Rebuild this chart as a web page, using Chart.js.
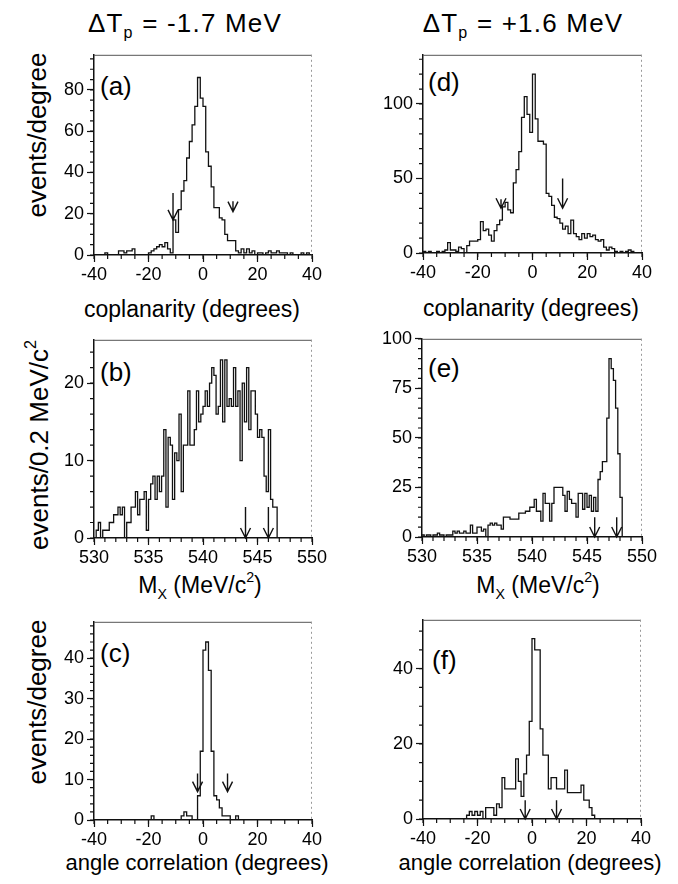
<!DOCTYPE html>
<html>
<head>
<meta charset="utf-8">
<script src="https://cdn.jsdelivr.net/npm/chart.js@4.4.1/dist/chart.umd.min.js"></script>
<style>
body { margin: 0; background: #fff; font-family: 'Liberation Sans', Arial, sans-serif; }
#page { position: relative; width: 678px; height: 884px; overflow: hidden; }
canvas { position: absolute; }
.txt { position: absolute; white-space: nowrap; color: #000; line-height: 1; }
.title { font-size: 26px; letter-spacing: 1.2px; transform: translateX(-50%); }
.xt { font-size: 23px; transform: translateX(-50%); }
.xt.ang { font-size: 22px; }
.yt { font-size: 26px; transform: translate(-50%, -50%) rotate(-90deg); }
.lab { font-size: 26px; }
sub, sup { font-size: 0.62em; line-height: 0; }
sub { vertical-align: -0.4em; }
sup { vertical-align: 0.75em; }
</style>
</head>
<body>
<div id="page">
  <div class="txt title" style="left:185px; top:10px">&Delta;T<sub>p</sub> = -1.7 MeV</div>
  <div class="txt title" style="left:523px; top:10px">&Delta;T<sub>p</sub> = +1.6 MeV</div>

  <div class="txt yt" style="left:37px; top:135px">events/degree</div>
  <div class="txt yt" style="left:39px; top:445px">events/0.2 MeV/c<sup>2</sup></div>
  <div class="txt yt" style="left:37px; top:702px">events/degree</div>

  <div class="txt xt" style="left:192px; top:298px">coplanarity (degrees)</div>
  <div class="txt xt" style="left:531px; top:297px">coplanarity (degrees)</div>
  <div class="txt xt" style="left:200px; top:574px">M<sub>X</sub> (MeV/c<sup>2</sup>)</div>
  <div class="txt xt" style="left:538px; top:574px">M<sub>X</sub> (MeV/c<sup>2</sup>)</div>
  <div class="txt xt ang" style="left:197px; top:852px">angle correlation (degrees)</div>
  <div class="txt xt ang" style="left:530px; top:852px">angle correlation (degrees)</div>

  <div class="txt lab" style="left:100px; top:73px">(a)</div>
  <div class="txt lab" style="left:428px; top:69px">(d)</div>
  <div class="txt lab" style="left:100px; top:359px">(b)</div>
  <div class="txt lab" style="left:428px; top:355px">(e)</div>
  <div class="txt lab" style="left:100px; top:640px">(c)</div>
  <div class="txt lab" style="left:432px; top:647px">(f)</div>

  <canvas id="ca"></canvas>
  <canvas id="cd"></canvas>
  <canvas id="cb"></canvas>
  <canvas id="ce"></canvas>
  <canvas id="cc"></canvas>
  <canvas id="cf"></canvas>
</div>
<script>
// bins: 1 degree from -40 for the angle histograms, 0.2 MeV from 530 for Mx
var degStart = -40, degWidth = 1;
var massStart = 530, massWidth = 0.2;

// (a) coplanarity, dTp = -1.7 MeV
var copA = [
  0,0,0,0,0,1,0,0,0,0,
  2,2,1,2,2,3,0,0,0,0,
  0,1,2,3,4,5,4,6,3,1,
  17,11,22,31,36,47,55,63,72,86,
  76,72,50,43,33,23,23,18,17,10,
  7,7,7,2,1,3,1,3,1,2,
  0,1,1,0,1,2,1,1,2,1,
  1,1,0,1,0,0,0,1,0,1
];
// (d) coplanarity, dTp = +1.6 MeV
var copD = [
  1,1,0,1,0,0,1,0,1,2,
  7,2,2,1,4,3,0,5,8,8,
  8,9,21,15,16,12,8,15,19,22,
  31,34,29,27,47,56,68,91,105,93,
  81,120,90,75,75,73,40,38,32,24,
  23,20,16,18,13,22,13,11,9,13,
  10,13,11,12,9,8,9,4,2,4,
  3,1,0,1,0,1,2,1,0,0
];
// (b) missing mass, dTp = -1.7 MeV
var massB = [
  0,0,1,2,0, 1,1,1,2,2, 3,3,4,3,4, 0,2,2,4,4,
  6,3,5,5,6, 1,5,7,8,5, 8,6,8,14,4, 13,12,5,11,10,
  16,6,12,12,19, 12,12,14,19,15, 16,17,19,17,20, 22,21,16,17,23,
  15,23,17,18,17, 22,17,19,10,20, 15,22,14,19,19, 16,13,14,13,8,
  6,14,5,4,4, 0
];
// (e) missing mass, dTp = +1.6 MeV
var massE = [
  1,1,0,1,1, 0,1,1,2,1, 1,0,1,1,1, 3,2,3,2,2,
  3,2,2,6,2, 2,5,5,3,4, 0,6,7,6,7, 6,6,4,10,10,
  10,9,9,9,9, 12,12,12,13,13, 15,15,19,13,13, 8,22,17,17,8,
  17,25,25,25,25, 21,13,23,19,17, 17,10,22,22,14, 22,15,21,13,20,
  13,29,33,38,38, 60,90,85,79,65, 42,20,0
];
// (c) angle correlation, dTp = -1.7 MeV
var angC = [
  0,0,0,0,0,0,0,0,0,0,
  0,0,0,0,0,0,0,0,0,0,
  0,0,1,0,0,0,0,0,0,0,
  0,0,0,1,2,1,1,0,0,6,
  17,42,44,37,17,6,5,3,1,1,
  1,0,0,1,0,0,0,0,0,0,
  0,0,0,0,0,0,0,0,0,0,
  0,0,0,0,0,0,0,0,0,0
];
// (f) angle correlation, dTp = +1.6 MeV
var angF = [
  0,0,0,0,0,0,0,0,0,0,
  0,0,0,0,0,0,0,1,2,1,
  2,1,2,0,3,3,3,1,4,3,
  11,8,8,8,8,16,10,6,12,17,
  26,48,45,45,24,17,17,8,11,11,
  8,8,8,13,7,7,7,7,7,9,
  5,5,3,1,0,0,0,0,0,0,
  0,0,0,0,0,0,0,0,0,0
];

// tick labels
var degTicks = [-40, -20, 0, 20, 40];
var massTicks = [530, 535, 540, 545, 550];
var yTicksA = [0, 20, 40, 60, 80];
var yTicksD = [0, 50, 100];
var yTicksB = [0, 10, 20];
var yTicksE = [0, 25, 50, 75, 100];
var yTicksC = [0, 10, 20, 30, 40];
var yTicksF = [0, 20, 40];

// cut arrows: x position, value at the tail, value at the tip
var arrowsA = [{x: -11, from: 30, to: 17}, {x: 11, from: 26, to: 21}];
var arrowsD = [{x: -11.5, from: 36, to: 30}, {x: 11, from: 50, to: 30}];
var arrowsB = [{x: 543.9, from: 4, to: 0}, {x: 546.0, from: 4, to: 0}];
var arrowsE = [{x: 545.7, from: 10, to: 0}, {x: 547.7, from: 10, to: 0}];
var arrowsC = [{x: -2, from: 11.5, to: 7}, {x: 9, from: 11.5, to: 7}];
var arrowsF = [{x: -2.5, from: 5, to: 0}, {x: 9, from: 5, to: 0}];

function histPoints(values, start, width) {
    var pts = values.map(function (v, i) {
        return {x: start + i * width, y: v};
    });
    pts.push({x: start + values.length * width, y: 0});
    return pts;
}

var framePlugin = {
    id: 'frame',
    afterDraw: function (chart, args, opts) {
        var ctx = chart.ctx;
        var a = chart.chartArea;
        var xs = chart.scales.x, ys = chart.scales.y;
        ctx.save();
        // top and right edge of the box
        ctx.strokeStyle = '#555';
        ctx.lineWidth = 1;
        ctx.beginPath();
        ctx.moveTo(a.left, a.top + 0.5);
        ctx.lineTo(a.right, a.top + 0.5);
        ctx.stroke();
        ctx.strokeStyle = '#999';
        ctx.setLineDash([2, 3]);
        ctx.beginPath();
        ctx.moveTo(a.right - 0.5, a.top);
        ctx.lineTo(a.right - 0.5, a.bottom);
        ctx.stroke();
        ctx.setLineDash([]);

        // minor ticks
        ctx.strokeStyle = '#111';
        ctx.lineWidth = 1.2;
        ctx.beginPath();
        for (var v = xs.min; v <= xs.max + 1e-9; v += opts.xMinor) {
            var px = xs.getPixelForValue(v);
            ctx.moveTo(px, a.bottom);
            ctx.lineTo(px, a.bottom + 4);
        }
        for (var w = ys.min; w <= ys.max + 1e-9; w += opts.yMinor) {
            var py = ys.getPixelForValue(w);
            ctx.moveTo(a.left, py);
            ctx.lineTo(a.left - 4, py);
        }
        ctx.stroke();

        // arrows
        ctx.lineWidth = 1.4;
        opts.arrows.forEach(function (ar) {
            var x = xs.getPixelForValue(ar.x);
            var y0 = ys.getPixelForValue(ar.from);
            var y1 = ys.getPixelForValue(ar.to);
            ctx.beginPath();
            ctx.moveTo(x, y0);
            ctx.lineTo(x, y1);
            ctx.moveTo(x - 5, y1 - 10);
            ctx.lineTo(x, y1);
            ctx.lineTo(x + 5, y1 - 10);
            ctx.stroke();
        });
        ctx.restore();
    }
};

var panels = [
    {id: 'ca', values: copA, start: degStart, width: degWidth, xMin: -40, xMax: 40, xTicks: degTicks, xMinor: 5,
     yMax: 97, yTicks: yTicksA, yMinor: 5, arrows: arrowsA, box: [94, 53, 312, 255]},
    {id: 'cd', values: copD, start: degStart, width: degWidth, xMin: -40, xMax: 40, xTicks: degTicks, xMinor: 5,
     yMax: 133, yTicks: yTicksD, yMinor: 10, arrows: arrowsD, box: [423, 53, 642, 253]},
    {id: 'cb', values: massB, start: massStart, width: massWidth, xMin: 530, xMax: 550, xTicks: massTicks, xMinor: 1,
     yMax: 25.6, yTicks: yTicksB, yMinor: 2, arrows: arrowsB, box: [94, 338, 312, 538]},
    {id: 'ce', values: massE, start: massStart, width: massWidth, xMin: 530, xMax: 550, xTicks: massTicks, xMinor: 1,
     yMax: 100, yTicks: yTicksE, yMinor: 5, arrows: arrowsE, box: [422, 337, 642, 537]},
    {id: 'cc', values: angC, start: degStart, width: degWidth, xMin: -40, xMax: 40, xTicks: degTicks, xMinor: 5,
     yMax: 49, yTicks: yTicksC, yMinor: 2, arrows: arrowsC, box: [94, 620, 312, 820]},
    {id: 'cf', values: angF, start: degStart, width: degWidth, xMin: -40, xMax: 40, xTicks: degTicks, xMinor: 5,
     yMax: 53, yTicks: yTicksF, yMinor: 5, arrows: arrowsF, box: [423, 618, 641, 819]}
];

var padL = 60, padT = 12, padR = 24, padB = 36;
var tickFont = {family: "'Liberation Sans', Arial, sans-serif", size: 18};

panels.forEach(function (p) {
    var canvas = document.getElementById(p.id);
    var w = p.box[2] - p.box[0] + padL + padR;
    var h = p.box[3] - p.box[1] + padT + padB;
    canvas.width = w;
    canvas.height = h;
    canvas.style.width = w + 'px';
    canvas.style.height = h + 'px';
    canvas.style.left = (p.box[0] - padL) + 'px';
    canvas.style.top = (p.box[1] - padT) + 'px';

    new Chart(canvas, {
        type: 'line',
        data: {
            datasets: [{
                data: histPoints(p.values, p.start, p.width),
                stepped: 'after',
                borderColor: '#111',
                borderWidth: 1.3,
                pointRadius: 0,
                fill: false
            }]
        },
        options: {
            responsive: false,
            animation: false,
            layout: {padding: {left: 0, top: padT, right: padR, bottom: 0}},
            plugins: {
                legend: {display: false},
                tooltip: {enabled: false},
                frame: {xMinor: p.xMinor, yMinor: p.yMinor, arrows: p.arrows}
            },
            scales: {
                x: {
                    type: 'linear',
                    min: p.xMin,
                    max: p.xMax,
                    afterBuildTicks: function (ax) { ax.ticks = p.xTicks.map(function (v) { return {value: v}; }); },
                    afterFit: function (ax) { ax.height = padB; },
                    grid: {drawOnChartArea: false, tickLength: 7, tickColor: '#111', tickWidth: 1.2},
                    border: {color: '#111', width: 1.5},
                    ticks: {font: tickFont, color: '#000', padding: 2, maxRotation: 0, autoSkip: false}
                },
                y: {
                    type: 'linear',
                    min: 0,
                    max: p.yMax,
                    afterBuildTicks: function (ax) { ax.ticks = p.yTicks.map(function (v) { return {value: v}; }); },
                    afterFit: function (ax) { ax.width = padL; },
                    grid: {drawOnChartArea: false, tickLength: 7, tickColor: '#111', tickWidth: 1.2},
                    border: {color: '#111', width: 1.5},
                    ticks: {font: tickFont, color: '#000', padding: 3, autoSkip: false}
                }
            }
        },
        plugins: [framePlugin]
    });
});
</script>
</body>
</html>
